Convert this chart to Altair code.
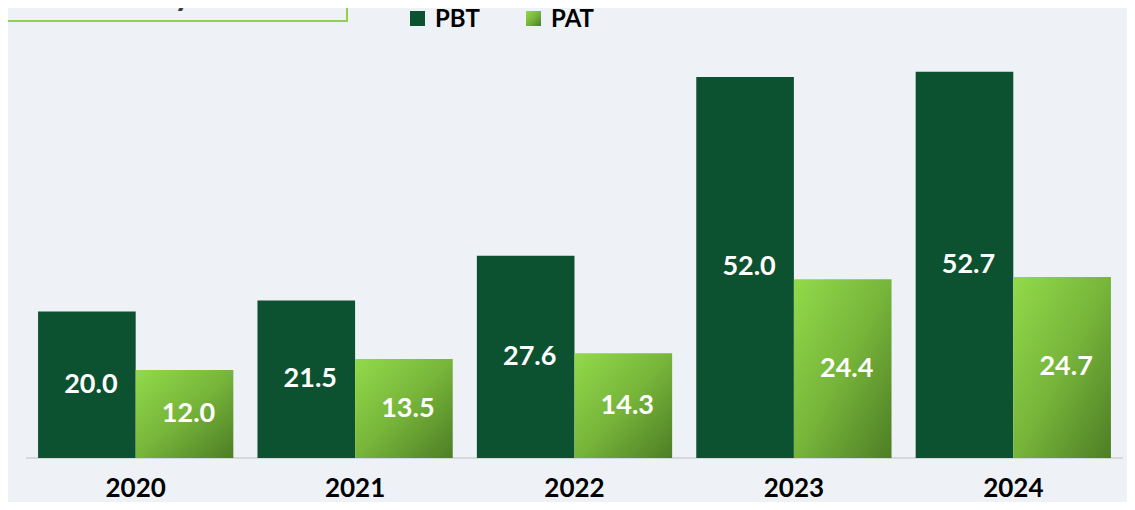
import altair as alt
import pandas as pd

# ---- data ----
years = ["2020", "2021", "2022", "2023", "2024"]
series = ["PBT", "PAT"]
pbt = [20.0, 21.5, 27.6, 52.0, 52.7]
pat = [12.0, 13.5, 14.3, 24.4, 24.7]
title_text = "Profitability"

rows = []
for yr, a, b in zip(years, pbt, pat):
    rows.append({"year": yr, "series": "PBT", "value": a})
    rows.append({"year": yr, "series": "PAT", "value": b})
df = pd.DataFrame(rows)

# ---- style ----
W, H = 1097, 450
YMAX = 61.4
BG = "#eef2f7"
DARK = "#0d5230"
grad = alt.Gradient(
    gradient="linear",
    stops=[alt.GradientStop(color="#92da4a", offset=0),
           alt.GradientStop(color="#77b53a", offset=0.5),
           alt.GradientStop(color="#4d7e25", offset=1)],
    x1=0, y1=0, x2=1, y2=1,
)
FONT = "Lato"

yscale = alt.Scale(domain=[0, YMAX], nice=False, zero=True)
x = alt.X("year:N", sort=years,
          scale=alt.Scale(paddingInner=0.11, paddingOuter=0.055),
          axis=alt.Axis(title=None, labelFont=FONT, labelFontWeight="bold",
                        labelFontSize=26, labelColor="#000000", ticks=False,
                        domain=False, labelPadding=17, labelAngle=0))
xo = alt.XOffset("series:N", sort=series,
                 scale=alt.Scale(domain=series, paddingInner=0, paddingOuter=0))
y = alt.Y("value:Q", scale=yscale, axis=None)

base = alt.Chart(df)

baseline = alt.Chart(pd.DataFrame({"v": [0]})).mark_rule(
    color="#d6d8dc", strokeWidth=2
).encode(y=alt.Y("v:Q", scale=yscale, axis=None), x=alt.value(0), x2=alt.value(W))

pbt_bars = base.transform_filter(alt.datum.series == "PBT").mark_bar(
    color=DARK
).encode(x=x, xOffset=xo, y=y)

pat_bars = base.transform_filter(alt.datum.series == "PAT").mark_bar(
    color=grad
).encode(x=x, xOffset=xo, y=y)

labels = base.transform_calculate(mid="datum.value / 2").mark_text(
    font=FONT, fontWeight="bold", fontSize=27, color="white", dx=4, baseline="middle"
).encode(x=x, xOffset=xo,
         y=alt.Y("mid:Q", scale=yscale, axis=None),
         text=alt.Text("value:Q", format=".1f"))

# ---- legend (manual, to show gradient swatch) ----
leg_pbt_sw = alt.Chart(pd.DataFrame({"s": [series[0]]})).mark_rect(color=DARK).encode(
    x=alt.value(384), x2=alt.value(399), y=alt.value(3), y2=alt.value(18))
leg_pat_sw = alt.Chart(pd.DataFrame({"s": [series[1]]})).mark_rect(color=grad).encode(
    x=alt.value(500), x2=alt.value(515), y=alt.value(3), y2=alt.value(18))
leg_pbt_tx = alt.Chart(pd.DataFrame({"s": [series[0]]})).mark_text(
    font=FONT, fontWeight="bold", fontSize=24, color="#000000", align="left", baseline="middle"
).encode(x=alt.value(409), y=alt.value(12), text="s:N")
leg_pat_tx = alt.Chart(pd.DataFrame({"s": [series[1]]})).mark_text(
    font=FONT, fontWeight="bold", fontSize=24, color="#000000", align="left", baseline="middle"
).encode(x=alt.value(525), y=alt.value(12), text="s:N")

# ---- cut-off title box ----
tdf = pd.DataFrame({"t": [title_text]})
title_box = alt.Chart(tdf).mark_rect(fill="transparent", stroke="#92d050", strokeWidth=2).encode(
    x=alt.value(-30), x2=alt.value(321), y=alt.value(-40), y2=alt.value(13))
title_tx = alt.Chart(tdf).mark_text(
    font=FONT, fontWeight="bold", fontSize=34, color="#3a3a3a", align="right", baseline="alphabetic"
).encode(x=alt.value(166), y=alt.value(-3), text="t:N")

chart = alt.layer(
    baseline, pbt_bars, pat_bars, labels,
    leg_pbt_sw, leg_pat_sw, leg_pbt_tx, leg_pat_tx,
    title_box, title_tx,
).properties(
    width=W, height=H,
    autosize=alt.AutoSizeParams(type="none"),
    padding={"left": 18, "top": 0, "right": 4, "bottom": 44},
    background=BG,
).configure_view(stroke=None)

chart.save("out.html", embed_options={"renderer": "svg", "actions": False})
